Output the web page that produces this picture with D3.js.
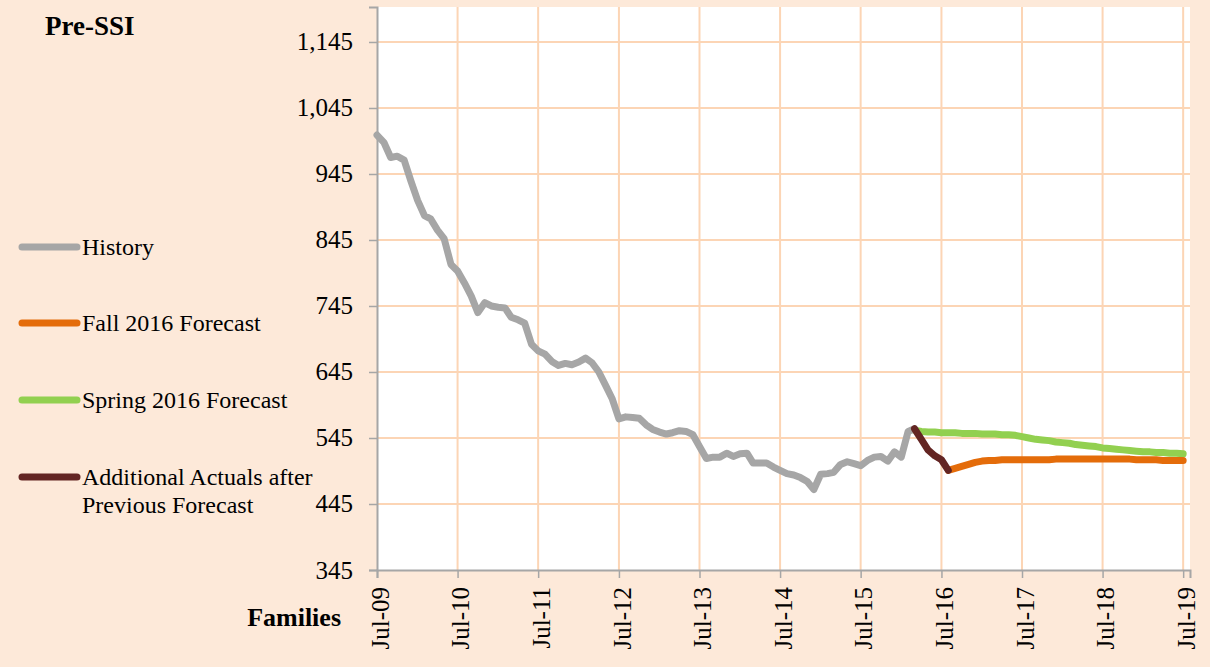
<!DOCTYPE html>
<html>
<head>
<meta charset="utf-8">
<script src="https://cdn.jsdelivr.net/npm/d3@7"></script>
<style>
    body { margin: 0; background: #ffffff; }
    text { font-family: "Liberation Serif", "Times New Roman", serif; fill: #000; }
</style>
</head>
<body>
<script>
// monthly values, history starts Jul-09
var historyStart = new Date(2009, 6, 1);
var historyValues = [1004, 993, 970, 972, 966, 935, 905, 882, 877, 860,
    847, 808, 798, 780, 760, 735, 750, 745, 743, 742,
    728, 724, 719, 687, 677, 672, 661, 655, 658, 656,
    660, 666, 659, 645, 625, 604, 574, 577, 576, 575,
    565, 558, 554, 551, 553, 556, 555, 550, 532, 514,
    516, 516, 522, 517, 521, 522, 507, 507, 507, 501,
    496, 491, 489, 485, 479, 467, 490, 491, 493, 505,
    509, 506, 503, 511, 516, 517, 510, 524, 516, 555,
    559];

// additional actuals, starts Mar-16
var actualsStart = new Date(2016, 2, 1);
var actualsValues = [559, 543, 527, 518, 512, 496];

// fall 2016 forecast, starts Aug-16
var fallStart = new Date(2016, 7, 1);
var fallValues = [496, 499, 502, 505, 508, 510, 511, 511, 512, 512,
    512, 512, 512, 512, 512, 512, 513, 513, 513, 513,
    513, 513, 513, 513, 513, 513, 513, 513, 512, 512,
    512, 512, 511, 511, 511, 511];

// spring 2016 forecast, starts Mar-16
var springStart = new Date(2016, 2, 1);
var springValues = [557, 555, 554, 554, 553, 553, 553, 552, 552, 552,
    551, 551, 551, 550, 550, 549, 547, 545, 543, 542,
    541, 539, 538, 537, 535, 534, 533, 532, 530, 529,
    528, 527, 526, 525, 524, 524, 523, 523, 522, 522,
    521];

var yTicks = [345, 445, 545, 645, 745, 845, 945, 1045, 1145];
var xTickYears = [2009, 2010, 2011, 2012, 2013, 2014, 2015, 2016, 2017, 2018, 2019];

var legendItems = [
    { label: ["History"], color: "#a6a6a6" },
    { label: ["Fall 2016 Forecast"], color: "#e46c0a" },
    { label: ["Spring 2016 Forecast"], color: "#92d050" },
    { label: ["Additional Actuals after", "Previous Forecast"], color: "#632523" }
];

var width = 1223,
    height = 667;

var svg = d3.select("body")
    .append("svg")
    .attr("width", width)
    .attr("height", height);

// chart background
svg.append("rect")
    .attr("x", 0).attr("y", 0)
    .attr("width", 1210).attr("height", height)
    .attr("fill", "#fde9d9");

var plot = { left: 377, right: 1190, top: 7, bottom: 570 };

var x = d3.scaleTime()
    .domain([new Date(2009, 6, 1), new Date(2019, 7, 1)])
    .range([plot.left, plot.right]);

var y = d3.scaleLinear()
    .domain([345, 1198])
    .range([plot.bottom, plot.top]);

// plot area
svg.append("rect")
    .attr("x", plot.left).attr("y", plot.top)
    .attr("width", plot.right - plot.left)
    .attr("height", plot.bottom - plot.top)
    .attr("fill", "#ffffff");

var xTicks = xTickYears.map(function(yr) { return new Date(yr, 6, 1); });

// gridlines
svg.append("g").selectAll("line")
    .data(yTicks.slice(1))
    .enter().append("line")
    .attr("x1", plot.left).attr("x2", plot.right)
    .attr("y1", function(d) { return y(d); })
    .attr("y2", function(d) { return y(d); })
    .attr("stroke", "#fcd5b5")
    .attr("stroke-width", 2);

svg.append("g").selectAll("line")
    .data(xTicks.slice(1))
    .enter().append("line")
    .attr("x1", function(d) { return x(d); })
    .attr("x2", function(d) { return x(d); })
    .attr("y1", plot.top).attr("y2", plot.bottom)
    .attr("stroke", "#fcd5b5")
    .attr("stroke-width", 2);

// axes
var yAxis = svg.append("g")
    .attr("transform", "translate(" + plot.left + ",0)")
    .call(d3.axisLeft(y).tickValues(yTicks).tickFormat(d3.format(",")).tickSizeOuter(0).tickSize(8).tickPadding(16));

var xAxis = svg.append("g")
    .attr("transform", "translate(0," + plot.bottom + ")")
    .call(d3.axisBottom(x).tickValues(xTicks).tickFormat(d3.timeFormat("Jul-%y")).tickSizeOuter(0).tickSize(8));

[yAxis, xAxis].forEach(function(a) {
    a.select(".domain").attr("stroke", "#a6a6a6").attr("stroke-width", 2);
    a.selectAll(".tick line").attr("stroke", "#a6a6a6").attr("stroke-width", 1.5);
    a.selectAll("text").style("font-family", "'Liberation Serif', serif").style("font-size", "25px").attr("fill", "#000");
});

xAxis.selectAll("text")
    .attr("transform", "rotate(-90)")
    .attr("text-anchor", "end")
    .attr("x", -17)
    .attr("y", 0)
    .attr("dy", "0.45em");

// series
var line = d3.line()
    .x(function(d) { return x(d.date); })
    .y(function(d) { return y(d.value); });

function toSeries(start, values) {
    return values.map(function(v, i) {
        return { date: d3.timeMonth.offset(start, i), value: v };
    });
}

var series = [
    { data: toSeries(springStart, springValues), color: "#92d050" },
    { data: toSeries(fallStart, fallValues), color: "#e46c0a" },
    { data: toSeries(historyStart, historyValues), color: "#a6a6a6" },
    { data: toSeries(actualsStart, actualsValues), color: "#632523" }
];

svg.append("g").selectAll("path")
    .data(series)
    .enter().append("path")
    .attr("d", function(d) { return line(d.data); })
    .attr("fill", "none")
    .attr("stroke", function(d) { return d.color; })
    .attr("stroke-width", 7)
    .attr("stroke-linejoin", "round")
    .attr("stroke-linecap", "round");

// legend
var legendY = [247, 323, 400, 477];
var legend = svg.append("g").selectAll("g")
    .data(legendItems)
    .enter().append("g")
    .attr("transform", function(d, i) { return "translate(0," + legendY[i] + ")"; });

legend.append("line")
    .attr("x1", 22).attr("x2", 77)
    .attr("y1", 0).attr("y2", 0)
    .attr("stroke", function(d) { return d.color; })
    .attr("stroke-width", 7)
    .attr("stroke-linecap", "round");

legend.each(function(d) {
    var g = d3.select(this);
    d.label.forEach(function(t, j) {
        g.append("text")
            .attr("x", 82)
            .attr("y", 8 + j * 28)
            .style("font-size", "24px")
            .text(t);
    });
});

// titles
svg.append("text")
    .attr("x", 45).attr("y", 35)
    .style("font-size", "27px")
    .style("font-weight", "bold")
    .text("Pre-SSI");

svg.append("text")
    .attr("x", 341).attr("y", 626)
    .attr("text-anchor", "end")
    .style("font-size", "26px")
    .style("font-weight", "bold")
    .text("Families");
</script>
</body>
</html>
